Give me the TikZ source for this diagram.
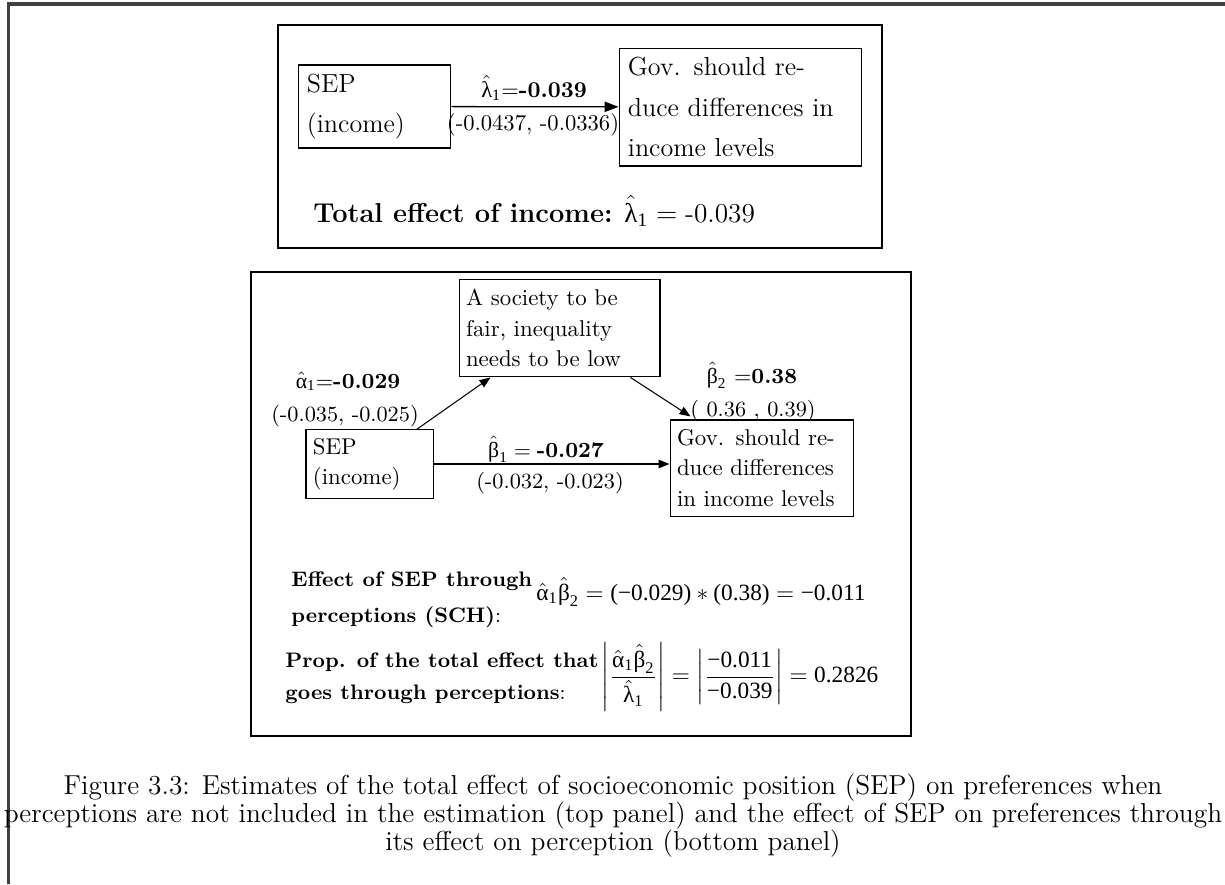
\documentclass[tikz,border=0pt]{standalone}
\usepackage{amsmath}
\usepackage{fontspec}
\usepackage{tikz}
\usetikzlibrary{arrows.meta}
\usetikzlibrary{calc}
\newfontfamily\grk{Liberation Serif}
\newcommand\tm[1]{\text{\grk #1}}
\newcommand\est[2]{\hat{\text{\grk #1}}_{\text{\grk #2}}}
\newcommand\fs[2]{\fontsize{#1}{#2}\selectfont}
\colorlet{framegray}{black!75}
\tikzstyle{bx}=[draw,line width=.45pt,align=left,inner ysep=0pt]
\tikzstyle{bxa}=[bx,font=\fs{11.2pt}{17.2pt},inner xsep=3.8pt]
\tikzstyle{bxb}=[bx,font=\fs{9.8pt}{12.9pt},inner xsep=3pt]
\tikzstyle{lba}=[font=\fs{9.7pt}{12pt},inner sep=0pt,anchor=base]
\tikzstyle{lbb}=[font=\fs{9.3pt}{11pt},inner sep=0pt,anchor=base]
\tikzstyle{txt}=[font=\fs{9pt}{15.4pt}\bfseries,align=left,inner sep=0pt,anchor=west]
\tikzstyle{arra}=[line width=.55pt,-{Triangle[length=6pt,width=4.4pt]}]
\tikzstyle{arrb}=[line width=.45pt,-{Triangle[length=4.7pt,width=3.6pt]}]
\tikzstyle{panel}=[line width=.5pt]
\begin{document}
\begin{tikzpicture}[x=.429pt,y=-.429pt]
	\useasboundingbox (0,0) rectangle (1225,884);
	\draw[line width=1.7pt,framegray] (8.5,884) -- (8.5,4) -- (1225,4);
	% top panel
	\draw[panel] (278,25) rectangle (882,248);
	\node[bxa,text width=58pt,minimum height=35.6pt] (s1) at (374.5,106.5) {SEP\\(income)};
	\node[bxa,text width=96.6pt,minimum height=50.6pt] (g1) at (740.5,107) {Gov. should re-\\duce differences in\\income levels};
	\draw[arra] (s1) -- (g1);
	\node[lba] (l1) at (534,97) {$\est{λ}{1}$=\textbf{-0.039}};
	\node[lba] (l1c) at (533,130) {(-0.0437, -0.0336)};
	\node[font=\fs{11.7pt}{14pt},inner sep=0pt,anchor=base west] (tot) at (313,222) {\textbf{Total effect of income:} $\est{λ}{1} = \text{-0.039}$};
	% bottom panel
	\draw[panel] (251,272) rectangle (911,736);
	\node[bxb,text width=80.2pt,minimum height=42pt] (p2) at (559.5,328) {A society to be\\fair, inequality\\needs to be low};
	\node[bxb,text width=48.5pt,minimum height=29.2pt] (s2) at (369.5,464) {SEP\\(income)};
	\node[bxb,text width=72.9pt,minimum height=41.2pt] (g2) at (762,468) {Gov. should re-\\duce differences\\in income levels};
	\draw[arrb] ($(s2.north east)+(-17,0)$) -- ($(p2.south west)+(32,0)$);
	\draw[arrb] (s2.east) -- (s2.east -| g2.west);
	\draw[arrb] ($(p2.south east)+(-30,0)$) -- ($(g2.north west)+(21,-3)$);
	\node[lbb] (a1) at (348,388) {$\est{α}{1}$=\textbf{-0.029}};
	\node[lbb] (a1c) at (345,421) {(-0.035, -0.025)};
	\node[lbb] (b1) at (546,457) {$\est{β}{1} = \text{\bfseries -0.027}$};
	\node[lbb] (b1c) at (550,488) {(-0.032, -0.023)};
	\node[lbb] (b2) at (752,383) {$\est{β}{2}$ =\textbf{0.38}};
	\node[lbb] (b2c) at (753,416) {( 0.36 , 0.39)};
	\node[txt] (eff) at (291,600) {Effect of SEP through\\perceptions (SCH){\mdseries:}};
	\node[font=\fs{10pt}{12pt},inner sep=0pt,anchor=base west] (effm) at (536,600) {$\est{α}{1}\est{β}{2} = \tm{(−0.029)}\ast\tm{(0.38)} = \tm{−0.011}$};
	\node[txt,font=\fs{9pt}{13.7pt}\bfseries] (prop) at (285,678) {Prop. of the total effect that\\goes through perceptions{\mdseries:}};
	\node[font=\fs{10pt}{12pt},inner sep=0pt,anchor=west] (propm) at (601,677) {$\left|\dfrac{\est{α}{1}\est{β}{2}}{\est{λ}{1}}\right| = \left|\dfrac{\tm{−0.011}}{\tm{−0.039}}\right| = \tm{0.2826}$};
	% caption
	\node[font=\fs{11.75pt}{12.1pt},align=center,inner sep=0pt,anchor=north] (cap) at (613,773) {Figure 3.3: Estimates of the total effect of socioeconomic position (SEP) on preferences when\\perceptions are not included in the estimation (top panel) and the effect of SEP on preferences through\\its effect on perception (bottom panel)};
\end{tikzpicture}
\end{document}
